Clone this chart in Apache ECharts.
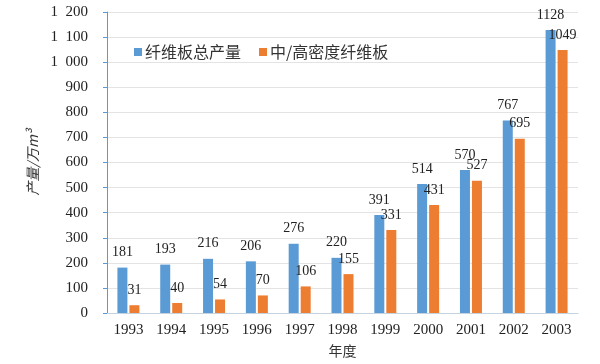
<!DOCTYPE html>
<html><head><meta charset="utf-8">
<script src="https://cdn.jsdelivr.net/npm/echarts@6/dist/echarts.min.js"></script>
<style>html,body{margin:0;padding:0;background:#fff}#c{width:600px;height:364px}</style>
</head><body><div id="c"></div>
<script>
const years = ['1993','1994','1995','1996','1997','1998','1999','2000','2001','2002','2003'];
const totalFiberboard = [181,193,216,206,276,220,391,514,570,767,1128];
const mdfHdf = [31,40,54,70,106,155,331,431,527,695,1049];
const seriesNames = ['纤维板总产量','中/高密度纤维板'];
const yAxisName = '产量/万m³';
const xAxisName = '年度';

const numFont = '"Liberation Serif","DejaVu Serif",serif';
const cjkFont = '"Noto Sans CJK SC",sans-serif';
const chart = echarts.init(document.getElementById('c'));
const lbl = {show:true, position:'top', distance:8, color:'#222', fontFamily:numFont, fontSize:14};
chart.setOption({
  animation:false,
  color:['#5B9BD5','#ED7D31'],
  legend:{top:39, left:129, itemWidth:8, itemHeight:8, icon:'rect', itemGap:18,
    textStyle:{fontFamily:cjkFont, fontSize:16, color:'#333', padding:[0,0,0,-2]},
    data:seriesNames},
  grid:{left:107, right:22, top:12, bottom:51},
  xAxis:{type:'category', data:years,
    name:xAxisName, nameLocation:'middle', nameGap:31,
    nameTextStyle:{fontFamily:cjkFont, fontSize:14, color:'#333'},
    axisLine:{lineStyle:{color:'#c5d3e0'}}, axisTick:{show:false},
    axisLabel:{fontFamily:numFont, fontSize:15, color:'#222', margin:10}},
  yAxis:{type:'value', min:0, max:1200, interval:100,
    name:yAxisName, nameLocation:'middle', nameGap:66, nameRotate:90,
    nameTextStyle:{fontFamily:cjkFont, fontSize:14, color:'#333', fontStyle:'italic'},
    axisLine:{show:true, lineStyle:{color:'#5B9BD5'}},
    axisTick:{show:true, length:4, lineStyle:{color:'#5B9BD5'}},
    splitLine:{lineStyle:{color:'#e3e3e3'}},
    axisLabel:{fontFamily:numFont, fontSize:15, color:'#222', margin:19,
      formatter:v=> v>=1000 ? Math.floor(v/1000)+'  '+String(v%1000).padStart(3,'0') : String(v)}},
  series:[
    {name:seriesNames[0], type:'bar', data:totalFiberboard, barWidth:10, barGap:'20%', label:lbl},
    {name:seriesNames[1], type:'bar', data:mdfHdf, barWidth:10, label:lbl}
  ]
});
</script></body></html>
